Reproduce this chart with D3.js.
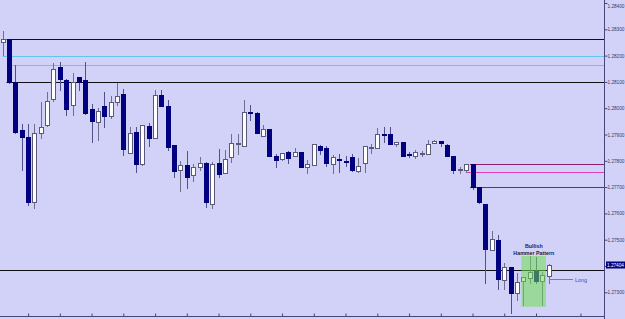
<!DOCTYPE html>
<html>
<head>
<meta charset="utf-8">
<script src="https://cdn.jsdelivr.net/npm/d3@7.9.0/dist/d3.min.js"></script>
<style>
  body { margin: 0; background: #d2d2f8; }
  svg { display: block; font-family: "Liberation Sans", Arial, sans-serif; }
</style>
</head>
<body>
<svg id="chart"></svg>
<script>
// candle data, one entry per bar (oldest first)
const opens = [1.28252, 1.28262, 1.28100, 1.27917, 1.27891, 1.27645, 1.27906, 1.27936, 1.28035, 1.28158,
  1.28107, 1.28012, 1.28118, 1.28107, 1.27997, 1.27946, 1.28008, 1.27972, 1.28022, 1.28054,
  1.27829, 1.27908, 1.27787, 1.27932, 1.27886, 1.28050, 1.28008, 1.27859, 1.27765, 1.27785,
  1.27746, 1.27775, 1.27792, 1.27636, 1.27793, 1.27755, 1.27813, 1.27866, 1.27857, 1.27987,
  1.27983, 1.27895, 1.27921, 1.27819, 1.27806, 1.27835, 1.27818, 1.27835, 1.27775, 1.27784,
  1.27856, 1.27848, 1.27787, 1.27807, 1.27801, 1.27816, 1.27762, 1.27790, 1.27853, 1.27848,
  1.27902, 1.27901, 1.27863, 1.27870, 1.27825, 1.27819, 1.27828, 1.27826, 1.27867, 1.27875,
  1.27860, 1.27819, 1.27767, 1.27765, 1.27787, 1.27702, 1.27636, 1.27461, 1.27499, 1.27347,
  1.27395, 1.27296, 1.27343, 1.27353, 1.27382, 1.27344, 1.27363];
const highs = [1.28294, 1.28263, 1.28164, 1.27940, 1.27940, 1.27940, 1.28024, 1.28062, 1.28171, 1.28175,
  1.28111, 1.28133, 1.28119, 1.28177, 1.28016, 1.28000, 1.28060, 1.28048, 1.28097, 1.28073,
  1.27927, 1.27930, 1.27938, 1.27945, 1.28069, 1.28069, 1.28031, 1.27860, 1.27800, 1.27837,
  1.27787, 1.27813, 1.27794, 1.27797, 1.27844, 1.27841, 1.27901, 1.27901, 1.28031, 1.28012,
  1.27984, 1.27936, 1.27921, 1.27826, 1.27831, 1.27837, 1.27848, 1.27835, 1.27803, 1.27864,
  1.27859, 1.27856, 1.27822, 1.27825, 1.27818, 1.27825, 1.27810, 1.27856, 1.27864, 1.27924,
  1.27930, 1.27927, 1.27872, 1.27872, 1.27835, 1.27841, 1.27837, 1.27879, 1.27879, 1.27875,
  1.27863, 1.27820, 1.27778, 1.27788, 1.27788, 1.27702, 1.27636, 1.27533, 1.27518, 1.27413,
  1.27396, 1.27372, 1.27360, 1.27438, 1.27436, 1.27378, 1.27408];
const lows = [1.28202, 1.28096, 1.27906, 1.27765, 1.27632, 1.27621, 1.27887, 1.27934, 1.28027, 1.28069,
  1.27974, 1.27974, 1.28069, 1.27978, 1.27873, 1.27879, 1.27929, 1.27962, 1.28012, 1.27822,
  1.27828, 1.27759, 1.27785, 1.27856, 1.27885, 1.28008, 1.27841, 1.27737, 1.27685, 1.27696,
  1.27724, 1.27765, 1.27626, 1.27619, 1.27737, 1.27754, 1.27797, 1.27825, 1.27856, 1.27955,
  1.27904, 1.27894, 1.27818, 1.27778, 1.27803, 1.27790, 1.27817, 1.27775, 1.27752, 1.27784,
  1.27825, 1.27780, 1.27752, 1.27759, 1.27780, 1.27762, 1.27759, 1.27759, 1.27831, 1.27847,
  1.27873, 1.27862, 1.27856, 1.27818, 1.27816, 1.27812, 1.27819, 1.27825, 1.27866, 1.27856,
  1.27818, 1.27752, 1.27755, 1.27759, 1.27693, 1.27638, 1.27334, 1.27460, 1.27312, 1.27312,
  1.27220, 1.27271, 1.27252, 1.27334, 1.27334, 1.27252, 1.27337];
const closes = [1.28265, 1.28099, 1.27910, 1.27891, 1.27643, 1.27905, 1.27929, 1.28027, 1.28148, 1.28110,
  1.27996, 1.28099, 1.28101, 1.27981, 1.27953, 1.27989, 1.27972, 1.28022, 1.28048, 1.27845,
  1.27905, 1.27787, 1.27936, 1.27886, 1.28050, 1.28010, 1.27854, 1.27762, 1.27785, 1.27740,
  1.27775, 1.27790, 1.27643, 1.27788, 1.27750, 1.27806, 1.27867, 1.27868, 1.27987, 1.27986,
  1.27905, 1.27920, 1.27819, 1.27803, 1.27829, 1.27812, 1.27835, 1.27775, 1.27788, 1.27863,
  1.27841, 1.27793, 1.27816, 1.27805, 1.27799, 1.27765, 1.27780, 1.27856, 1.27854, 1.27902,
  1.27900, 1.27863, 1.27870, 1.27820, 1.27824, 1.27832, 1.27830, 1.27864, 1.27875, 1.27867,
  1.27819, 1.27765, 1.27768, 1.27787, 1.27699, 1.27645, 1.27464, 1.27502, 1.27351, 1.27397,
  1.27296, 1.27340, 1.27359, 1.27376, 1.27344, 1.27366, 1.27404];

// horizontal levels drawn on the chart
const levelPrices = [1.28262, 1.28197, 1.28164, 1.28099, 1.27787, 1.27756, 1.27699, 1.27383];
const levelStarts = [0.6, 0, 1.4, 0.6, 73.6, 73, 73.6, -1];
const levelColors = ['#111111', '#5ec8f0', '#5ec8f0', '#111111', '#8a1f70', '#e040c0', '#8a1f70', '#111111'];

// axis ticks
const yTicks = [1.2840, 1.2830, 1.2820, 1.2810, 1.2800, 1.2790, 1.2780, 1.2770, 1.2760, 1.2750, 1.2740, 1.2730];
const xTicks = [4, 9, 14, 19, 24, 29, 34, 39, 44, 49, 54, 59, 64, 69, 74, 79, 84, 91];

// pattern annotation
const patternBars = [82, 85];
const patternRange = [1.27245, 1.27438];
const patternLabel = ['Bullish', 'Hammer Pattern'];
const longPrice = 1.27351;
const longLabel = 'Long';

const width = 625;
const height = 319;
const axisX = 604.5;
const axisY = 316.5;

const svg = d3.select('#chart')
  .attr('width', width)
  .attr('height', height);

svg.append('rect')
  .attr('width', width)
  .attr('height', height)
  .attr('fill', '#d2d2f8');

const x = d3.scaleLinear().domain([0, 86]).range([2.7, 548.7]);
const y = d3.scaleLinear().domain([1.2730, 1.2840]).range([292.3, 3]);

const bars = d3.range(opens.length).map(i => ({
  i, open: opens[i], high: highs[i], low: lows[i], close: closes[i]
}));

// level lines
svg.append('g').attr('class', 'levels')
  .selectAll('line')
  .data(levelPrices)
  .enter()
  .append('line')
  .attr('x1', (d, i) => levelStarts[i] < 0 ? 0 : x(levelStarts[i]))
  .attr('x2', axisX)
  .attr('y1', d => Math.round(y(d)) + 0.5)
  .attr('y2', d => Math.round(y(d)) + 0.5)
  .attr('stroke', (d, i) => levelColors[i])
  .attr('stroke-width', 1);

// candles
const candles = svg.append('g').attr('class', 'candles')
  .selectAll('g')
  .data(bars)
  .enter()
  .append('g');

candles.append('line')
  .attr('x1', d => Math.round(x(d.i)) + 0.5)
  .attr('x2', d => Math.round(x(d.i)) + 0.5)
  .attr('y1', d => Math.round(y(d.high)))
  .attr('y2', d => Math.round(y(d.low)) + 1)
  .attr('stroke', d => d.close >= d.open ? '#6e6e8e' : '#50508a')
  .attr('stroke-width', 1);

candles.append('rect')
  .attr('x', d => Math.round(x(d.i)) - 1.5)
  .attr('width', 4)
  .attr('y', d => Math.round(y(Math.max(d.open, d.close))) + 0.5)
  .attr('height', d => Math.max(Math.round(y(Math.min(d.open, d.close))) - Math.round(y(Math.max(d.open, d.close))), 1))
  .attr('fill', d => d.close >= d.open ? '#ffffff' : '#000080')
  .attr('stroke', d => d.close >= d.open ? '#5a5a78' : '#000080')
  .attr('stroke-width', 1);

// pattern box (translucent, drawn over the candles)
svg.append('rect')
  .attr('x', x(patternBars[0]) - 2)
  .attr('width', x(patternBars[1]) - x(patternBars[0]) + 5.5)
  .attr('y', y(patternRange[1]))
  .attr('height', y(patternRange[0]) - y(patternRange[1]))
  .attr('fill', 'rgb(110,220,80)')
  .attr('fill-opacity', 0.55);

const px = (x(patternBars[0]) + x(patternBars[1])) / 2 + 1;
svg.append('g')
  .selectAll('text')
  .data(patternLabel)
  .enter()
  .append('text')
  .attr('x', px)
  .attr('y', (d, i) => y(patternRange[1]) - 8.5 + i * 7)
  .attr('text-anchor', 'middle')
  .attr('font-size', '5.3px')
  .attr('font-weight', 'bold')
  .attr('fill', '#1c2440')
  .text(d => d);

// "Long" marker
const ly = Math.round(y(longPrice)) + 0.5;
svg.append('line')
  .attr('x1', x(86) + 0.5)
  .attr('x2', 573)
  .attr('y1', ly)
  .attr('y2', ly)
  .attr('stroke', '#6a7ad0')
  .attr('stroke-width', 1);
svg.append('text')
  .attr('x', 575)
  .attr('y', ly + 2)
  .attr('font-size', '5.4px')
  .attr('fill', '#3050c8')
  .text(longLabel);

// right price axis
const yAxis = d3.axisRight(y)
  .tickValues(yTicks)
  .tickSize(3)
  .tickSizeOuter(0)
  .tickPadding(0)
  .tickFormat(d3.format('.5f'));

const yG = svg.append('g')
  .attr('transform', `translate(${axisX}, 0)`)
  .call(yAxis);
yG.select('.domain').remove();
yG.selectAll('line').attr('stroke', '#46467a');
yG.selectAll('text')
  .attr('font-size', '4.7px')
  .attr('font-family', '"Liberation Sans", Arial, sans-serif')
  .attr('fill', '#3a3a60');
// keep the top label inside the picture
yG.selectAll('.tick').filter(d => d === yTicks[0]).select('text').attr('dy', '0.9em');

svg.append('line')
  .attr('x1', axisX).attr('x2', axisX)
  .attr('y1', 0).attr('y2', height)
  .attr('stroke', '#46467a');

// last price tag
const last = closes[closes.length - 1];
const tagY = y(last);
svg.append('rect')
  .attr('x', axisX + 1.5)
  .attr('y', Math.round(tagY) - 3.5)
  .attr('width', width - axisX)
  .attr('height', 7)
  .attr('fill', '#000080');
svg.append('text')
  .attr('x', axisX + 2.5)
  .attr('y', Math.round(tagY) + 2)
  .attr('font-size', '4.7px')
  .attr('fill', '#ffffff')
  .text(d3.format('.5f')(last));

// bottom time axis
const xAxis = d3.axisTop(x)
  .tickValues(xTicks)
  .tickSize(3)
  .tickSizeOuter(0)
  .tickFormat('');

const xG = svg.append('g')
  .attr('transform', `translate(0, ${axisY})`)
  .call(xAxis);
xG.select('.domain').remove();
xG.selectAll('line').attr('stroke', '#46467a');

svg.append('line')
  .attr('x1', 0).attr('x2', axisX)
  .attr('y1', axisY).attr('y2', axisY)
  .attr('stroke', '#46467a');
</script>
</body>
</html>
